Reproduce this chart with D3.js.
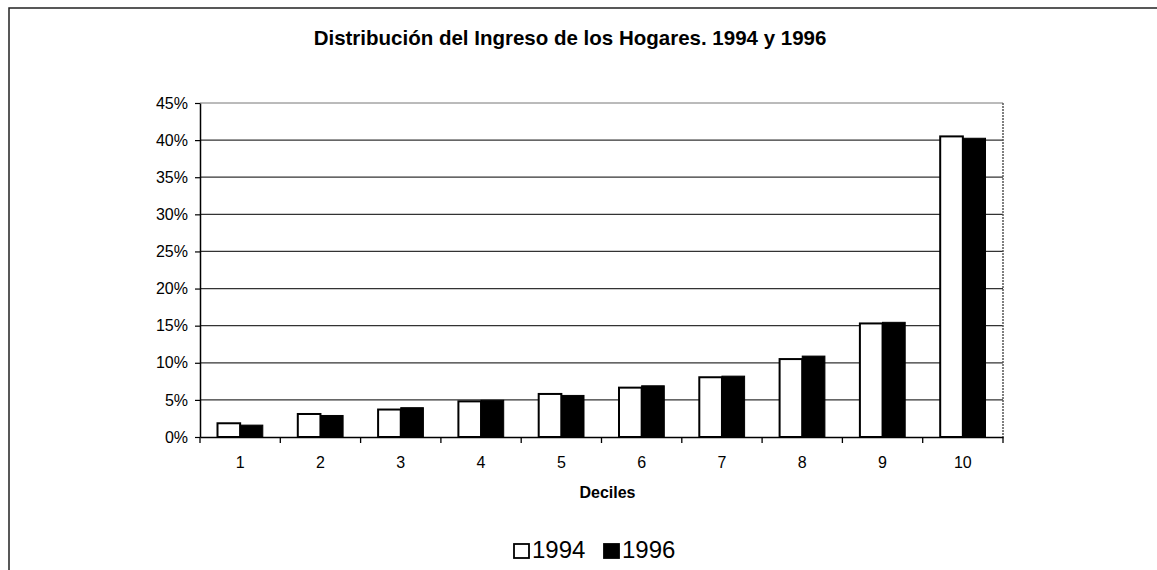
<!DOCTYPE html>
<html>
<head>
<meta charset="utf-8">
<script src="https://cdn.jsdelivr.net/npm/d3@7"></script>
<style>
    body { margin: 0; background: #fff; }
    svg { display: block; font-family: "Liberation Sans", Arial, sans-serif; }
</style>
</head>
<body>
<div id="chart"></div>
<script>
const deciles = ["1", "2", "3", "4", "5", "6", "7", "8", "9", "10"];
const series = ["1994", "1996"];
const values1994 = [0.0185, 0.031, 0.037, 0.048, 0.058, 0.0665, 0.0805, 0.105, 0.153, 0.405];
const values1996 = [0.016, 0.029, 0.0395, 0.0495, 0.056, 0.069, 0.082, 0.109, 0.1545, 0.4025];
const yTicks = [0, 0.05, 0.10, 0.15, 0.20, 0.25, 0.30, 0.35, 0.40, 0.45];

const width = 1157, height = 570;
const margin = { top: 103, right: 154, bottom: 133, left: 200 };
const innerW = width - margin.left - margin.right;
const innerH = height - margin.top - margin.bottom;

const svg = d3.select("#chart").append("svg")
    .attr("width", width)
    .attr("height", height);

// outer frame
svg.append("rect")
    .attr("x", 9).attr("y", 8)
    .attr("width", width + 20).attr("height", height + 20)
    .attr("fill", "none")
    .attr("stroke", "#222")
    .attr("stroke-width", 1.5);

svg.append("text")
    .attr("x", 570).attr("y", 45)
    .attr("text-anchor", "middle")
    .style("font-size", "20.5px")
    .style("font-weight", "bold")
    .text("Distribución del Ingreso de los Hogares. 1994 y 1996");

const g = svg.append("g")
    .attr("transform", "translate(" + margin.left + "," + margin.top + ")");

const x = d3.scaleBand().domain(deciles).range([0, innerW]);
const x1 = d3.scaleBand().domain(series).range([17.5, x.bandwidth() - 17.5]);
const y = d3.scaleLinear().domain([0, 0.45]).range([innerH, 0]);

// gridlines
g.append("g")
    .selectAll("line")
    .data(yTicks.slice(1))
    .enter().append("line")
    .attr("x1", 0).attr("x2", innerW)
    .attr("y1", d => y(d)).attr("y2", d => y(d))
    .attr("stroke", d => d === 0.45 ? "#777" : "#333")
    .attr("stroke-width", d => d === 0.45 ? 1 : 1.3);

// right border
g.append("line")
    .attr("x1", innerW).attr("x2", innerW)
    .attr("y1", 0).attr("y2", innerH)
    .attr("stroke", "#555")
    .attr("stroke-width", 1.5)
    .attr("stroke-dasharray", "2,1");

// bars
const groups = g.selectAll(".decile")
    .data(deciles)
    .enter().append("g")
    .attr("transform", d => "translate(" + x(d) + ",0)");

groups.append("rect")
    .attr("x", x1("1994"))
    .attr("y", (d, i) => y(values1994[i]))
    .attr("width", x1.bandwidth())
    .attr("height", (d, i) => innerH - y(values1994[i]))
    .attr("fill", "#fff")
    .attr("stroke", "#000")
    .attr("stroke-width", 2);

groups.append("rect")
    .attr("x", x1("1996"))
    .attr("y", (d, i) => y(values1996[i]))
    .attr("width", x1.bandwidth())
    .attr("height", (d, i) => innerH - y(values1996[i]))
    .attr("fill", "#000")
    .attr("stroke", "#000")
    .attr("stroke-width", 1);

// y axis
const yAxis = g.append("g")
    .call(d3.axisLeft(y).tickValues(yTicks).tickFormat(d3.format(".0%")).tickSize(5).tickSizeOuter(0));
yAxis.select(".domain").attr("stroke", "#000").attr("stroke-width", 1.5);
yAxis.selectAll(".tick line").attr("stroke", "#000").attr("stroke-width", 1.2);
yAxis.selectAll("text")
    .attr("x", -12)
    .attr("fill", "#000")
    .style("font-size", "16px")
    .style("font-family", "'Liberation Sans', Arial, sans-serif");

// x axis
const xAxis = g.append("g")
    .attr("transform", "translate(0," + innerH + ")")
    .call(d3.axisBottom(x).tickSize(0).tickSizeOuter(0));
xAxis.select(".domain").attr("stroke", "#000").attr("stroke-width", 1.5);
xAxis.selectAll("text")
    .attr("y", 20)
    .attr("fill", "#000")
    .style("font-size", "16px")
    .style("font-family", "'Liberation Sans', Arial, sans-serif");

// band boundary ticks
g.append("g")
    .selectAll("line")
    .data(deciles.concat(["end"]))
    .enter().append("line")
    .attr("x1", (d, i) => i < deciles.length ? x(d) : innerW)
    .attr("x2", (d, i) => i < deciles.length ? x(d) : innerW)
    .attr("y1", innerH).attr("y2", innerH + 6)
    .attr("stroke", "#000")
    .attr("stroke-width", 1.3);

g.append("text")
    .attr("x", innerW / 2 + 6).attr("y", innerH + 61)
    .attr("text-anchor", "middle")
    .style("font-size", "16px")
    .style("font-weight", "bold")
    .text("Deciles");

// legend
const legend = svg.append("g").attr("transform", "translate(513,540)");
const legendX = d3.scaleOrdinal().domain(series).range([0, 90]);
series.forEach(s => {
    const item = legend.append("g").attr("transform", "translate(" + legendX(s) + ",0)");
    item.append("rect")
        .attr("x", 1).attr("y", 4)
        .attr("width", 15).attr("height", 14)
        .attr("fill", s === "1994" ? "#fff" : "#000")
        .attr("stroke", "#000")
        .attr("stroke-width", 1.8);
    item.append("text")
        .attr("x", 19).attr("y", 18)
        .style("font-size", "24px")
        .text(s);
});
</script>
</body>
</html>
